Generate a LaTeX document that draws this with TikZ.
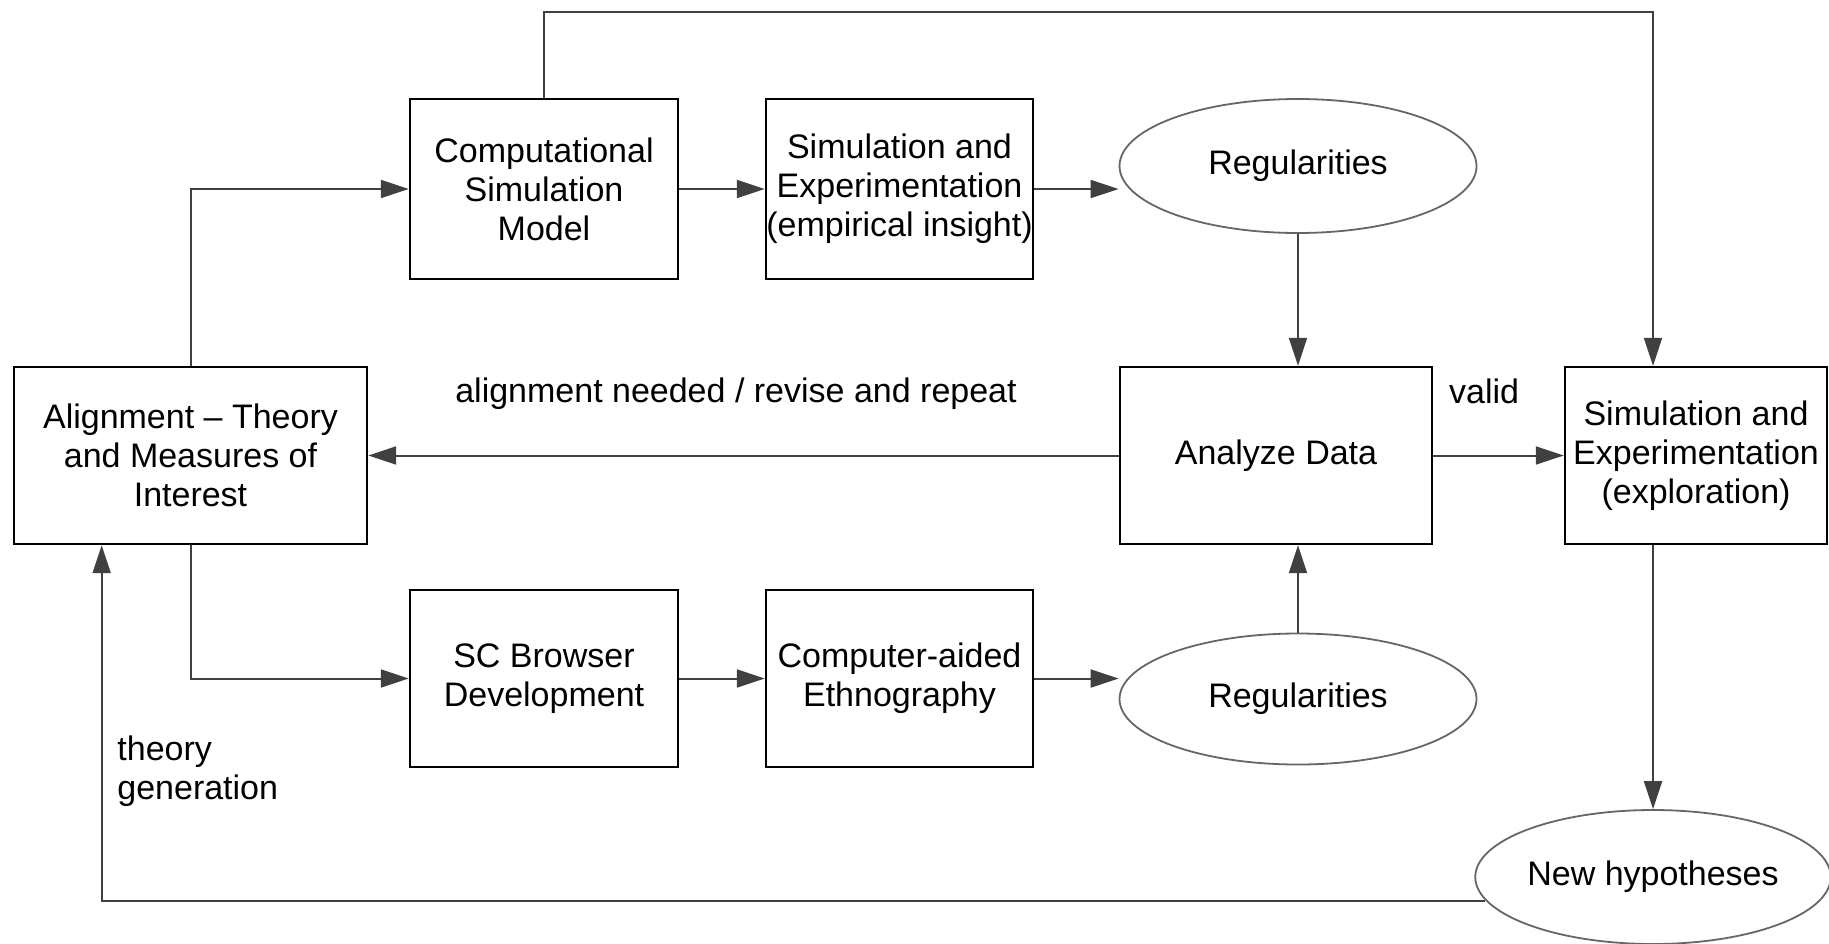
\documentclass[tikz,border=0pt]{standalone}
\usepackage{fontspec}
\setmainfont{Liberation Sans}
\usetikzlibrary{shapes.geometric}
\usetikzlibrary{arrows.meta}
\usetikzlibrary{calc}

\begin{document}
\begin{tikzpicture}[x=0.5pt, y=-0.5pt,
    >={Triangle[length=14pt,width=9pt]},
    every node/.style={font=\fontsize{17}{19.5}\selectfont, align=center},
    stage/.style={rectangle, draw=black, line width=1.2pt, inner sep=0pt},
    finding/.style={ellipse, draw=black!60, line width=0.9pt, inner sep=0pt},
    flow/.style={->, draw=black!75, line width=1pt}]

  \path[use as bounding box, fill=white] (0,0) rectangle (1829,943);

  % theory box on the left
  \node[stage, minimum width=176.5pt, minimum height=88.5pt] (align)
        at (190.5,455.5) {Alignment -- Theory\\and Measures of\\Interest};

  % simulation branch
  \node[stage, minimum width=134pt, minimum height=90pt] (comp)
        at (544,189) {Computational\\Simulation\\Model};
  \node[stage, minimum width=133.5pt, minimum height=90pt] (simemp)
        at (899.5,189) {Simulation and\\Experimentation\\(empirical insight)};
  \node[finding, minimum width=178.5pt, minimum height=67pt] (reg1)
        at (1298,166) {Regularities};

  % ethnography branch
  \node[stage, minimum width=134pt, minimum height=88.5pt] (scb)
        at (544,678.5) {SC Browser\\Development};
  \node[stage, minimum width=133.5pt, minimum height=88.5pt] (cae)
        at (899.5,678.5) {Computer-aided\\Ethnography};
  \node[finding, minimum width=178.5pt, minimum height=65.5pt] (reg2)
        at (1298,699) {Regularities};

  % analysis and exploration
  \node[stage, minimum width=156pt, minimum height=88.5pt] (analyze)
        at (1276,455.5) {Analyze Data};
  \node[stage, minimum width=131pt, minimum height=88.5pt] (explore)
        at (1696,455.5) {Simulation and\\Experimentation\\(exploration)};
  \node[finding, minimum width=176pt, minimum height=67pt] (newhyp)
        at (1653,877) {New hypotheses};

  \coordinate (topturn) at (1653,12);
  \coordinate (alignfoot) at ($(align.south west)!0.25!(align.south east)$);

  \draw[flow] (align.north) |- (comp.west);
  \draw[flow] (align.south) |- (scb.west);
  \draw[flow] (comp) -- (simemp);
  \draw[flow] (simemp.east) -- (simemp.east -| reg1.west);
  \draw[flow] (scb) -- (cae);
  \draw[flow] (cae.east) -- (cae.east -| reg2.west);
  \draw[flow] (reg1.south) -- (analyze.north -| reg1.south);
  \draw[flow] (reg2.north) -- (analyze.south -| reg2.north);

  \draw[flow] (analyze.west) -- node[pos=0.51, above=19pt]
                    {alignment needed / revise and repeat} (align.east);
  \draw[flow] (analyze.east) -- node[pos=0.39, above=22pt] {valid} (explore.west);

  % long loops
  \draw[flow] (comp.north) |- (topturn) -- (topturn |- explore.north);
  \draw[flow] (topturn |- explore.south) -- (newhyp.north);
  \draw[flow] (newhyp.188) -| (alignfoot);
  \node[anchor=north west, align=left, inner sep=0pt] (theorygen) at (117,735)
        {theory\\generation};

\end{tikzpicture}
\end{document}
